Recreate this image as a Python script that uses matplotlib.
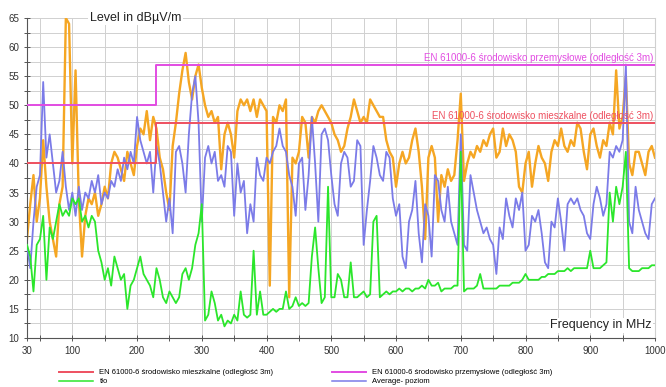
import numpy as np
import matplotlib
matplotlib.use("Agg")
import matplotlib.pyplot as plt
from matplotlib.ticker import MultipleLocator, FixedLocator

# frequency grid of the readings (MHz), 5 MHz apart
freq = np.arange(30, 1001, 5)

# peak trace (orange), dBuV/m
peak = [
    27, 33, 38, 30, 34, 44, 36, 30, 27, 24,
    33, 36, 65, 64, 40, 56, 34, 24, 31, 34,
    33, 35, 31, 33, 36, 34, 40, 42, 41, 39,
    37, 42, 40, 38, 43, 46, 45, 49, 44, 48,
    46, 41, 39, 35, 32, 43, 47, 52, 56, 59,
    54, 51, 55, 57, 53, 50, 48, 49, 47, 48,
    39, 45, 47, 45, 41, 49, 51, 50, 51, 49,
    51, 48, 51, 50, 49, 19, 48, 47, 50, 49,
    51, 17, 41, 40, 42, 48, 47, 41, 48, 47,
    49, 50, 49, 48, 47, 45, 44, 42, 43, 46,
    48, 51, 49, 47, 48, 47, 51, 50, 49, 48,
    48, 44, 42, 41, 36, 40, 42, 40, 41, 44,
    46, 42, 36, 27, 41, 43, 41, 30, 38, 36,
    39, 37, 38, 44, 52, 37, 40, 42, 41, 43,
    42, 44, 43, 45, 46, 41, 42, 46, 43, 45,
    44, 42, 36, 35, 40, 42, 36, 40, 43, 41,
    40, 37, 42, 44, 43, 46, 43, 42, 44, 43,
    47, 46, 42, 39, 45, 46, 43, 41, 44, 43,
    47, 45, 56, 46, 48, 55, 40, 38, 42, 42,
    40, 38, 42, 43, 41,
]

# average trace (blue)
average = [
    26, 22, 30, 36, 38, 54, 41, 45, 40, 35,
    37, 42, 36, 32, 35, 31, 36, 32, 35, 34,
    37, 35, 38, 33, 35, 34, 37, 36, 39, 37,
    41, 39, 42, 40, 48, 44, 42, 40, 42, 35,
    43, 40, 35, 30, 34, 28, 42, 43, 40, 35,
    45, 52, 55, 47, 30, 41, 43, 40, 42, 37,
    38, 36, 43, 42, 31, 40, 35, 37, 28, 33,
    30, 41, 38, 37, 41, 40, 42, 43, 46, 43,
    42, 38, 36, 31, 40, 41, 32, 38, 48, 40,
    30, 45, 46, 44, 38, 33, 31, 40, 42, 41,
    36, 37, 44, 43, 26, 32, 37, 43, 41, 38,
    37, 42, 41, 34, 31, 33, 24, 22, 30, 32,
    37, 28, 23, 33, 31, 24, 38, 37, 32, 30,
    36, 30, 28, 26, 45, 26, 25, 38, 35, 32,
    30, 28, 29, 27, 26, 21, 29, 27, 34, 31,
    29, 34, 32, 35, 25, 26, 31, 30, 32, 28,
    23, 22, 30, 29, 34, 30, 25, 33, 34, 33,
    34, 32, 31, 28, 27, 33, 36, 34, 31, 33,
    42, 41, 43, 42, 44, 57, 30, 28, 36, 32,
    30, 28, 27, 33, 34,
]

# background trace (green)
background = [
    26, 24, 18, 26, 27, 31, 20, 29, 27, 30,
    33, 31, 32, 31, 34, 33, 34, 30, 31, 29,
    31, 30, 25, 23, 20, 22, 19, 24, 22, 20,
    21, 15, 19, 20, 22, 24, 21, 20, 19, 17,
    22, 20, 17, 16, 18, 17, 16, 17, 21, 22,
    20, 22, 26, 28, 33, 13, 14, 18, 16, 13,
    14, 12, 13, 12.5, 14, 13, 18, 14, 13.5, 14,
    25, 14, 18, 14, 14, 14.5, 15, 14.5, 15, 15,
    18, 15, 15.5, 17, 15.5, 16, 15.5, 16, 24, 29,
    22, 16, 17, 36, 17, 17, 21, 20, 17, 17,
    23, 17, 17, 17.5, 18, 17, 17.5, 30, 31, 17,
    17.5, 18, 17.5, 18, 18, 18.5, 18, 18.5, 18.5, 18,
    18.5, 18.5, 19, 18.5, 20, 19, 19, 19.5, 18, 18.5,
    18.5, 18.5, 19, 19, 42, 18, 18.5, 18.5, 18.5, 19,
    21, 18.5, 18.5, 18.5, 18.5, 18.5, 19, 19, 19, 19,
    19.5, 19.5, 19.5, 20, 21, 20, 20, 20, 20, 20.5,
    20.5, 21, 21, 21, 21.5, 21.5, 21.5, 22, 21.5, 22,
    22, 22, 22, 22, 25, 22, 22, 22, 22.5, 23,
    35, 30, 36, 33, 36, 42, 22, 21.5, 21.5, 21.5,
    22, 22, 22, 22.5, 22.5,
]

# limit lines (EN 61000-6 at 3 m), step at 230 MHz
limit_freq = [30, 230, 230, 1000]
limit_residential = [40, 40, 47, 47]
limit_industrial = [50, 50, 57, 57]

label_res = "EN 61000-6 środowisko mieszkalne (odległość 3m)"
label_ind = "EN 61000-6 środowisko przemysłowe (odległość 3m)"
label_bg = "tło"
label_avg = "Average- poziom"

c_orange = "#F5A623"
c_blue = "#7B7BE8"
c_green = "#2BE62B"
c_red = "#EE5060"
c_mag = "#E24CE2"
font = ["Liberation Sans", "DejaVu Sans"]

fig = plt.figure(figsize=(6.66, 3.87), dpi=100)
ax = fig.add_axes([27 / 666, 1 - 338 / 387, 628 / 666, 320 / 387])

ax.plot(freq, peak, color=c_orange, lw=1.7, zorder=2)
ax.plot(freq, average, color=c_blue, lw=1.3, zorder=3)
ax.plot(freq, background, color=c_green, lw=1.3, zorder=4)
l_res, = ax.plot(limit_freq, limit_residential, color=c_red, lw=1.4, zorder=5)
l_ind, = ax.plot(limit_freq, limit_industrial, color=c_mag, lw=1.4, zorder=5)
h_bg, = ax.plot([], [], color=c_green, lw=1.1)
h_avg, = ax.plot([], [], color=c_blue, lw=1.1)

ax.set_xlim(30, 1000)
ax.set_ylim(10, 65)
ax.xaxis.set_major_locator(FixedLocator([30] + list(range(100, 1001, 100))))
ax.xaxis.set_minor_locator(FixedLocator(list(range(50, 1000, 100))))
ax.yaxis.set_major_locator(MultipleLocator(5))
ax.yaxis.set_minor_locator(MultipleLocator(2.5))
ax.grid(True, which="both", color="#d0d0d0", lw=0.7, zorder=0)
ax.set_axisbelow(True)
ax.tick_params(which="both", direction="inout", length=5, width=0.7,
               color="#555555", labelsize=7, labelcolor="#333333", pad=3)
for lab in ax.get_xticklabels() + ax.get_yticklabels():
    lab.set_family(font)
ax.spines["top"].set_visible(False)
ax.spines["right"].set_color("#d0d0d0")
ax.spines["left"].set_color("#555555")
ax.spines["bottom"].set_color("#555555")

ax.text(0.10, 1.0, "Level in dBµV/m", transform=ax.transAxes, fontsize=9,
        family=font, color="#222222", va="center", ha="left", zorder=10,
        bbox=dict(facecolor="white", edgecolor="none", pad=1))
ax.text(0.995, 0.04, "Frequency in MHz", transform=ax.transAxes, fontsize=9,
        family=font, color="#222222", va="center", ha="right", zorder=10,
        bbox=dict(facecolor="white", edgecolor="none", pad=1))
ax.text(998, 57.3, label_ind, fontsize=7, family=font, color=c_mag,
        ha="right", va="bottom", zorder=6)
ax.text(998, 47.3, label_res, fontsize=7, family=font, color=c_red,
        ha="right", va="bottom", zorder=6)

kw = dict(frameon=False, handlelength=4.5, labelspacing=0.25,
          loc="upper left", prop={"family": font, "size": 5.5})
fig.legend([l_res, h_bg], [label_res, label_bg],
           bbox_to_anchor=(52 / 666, 1 - 362 / 387), **kw)
fig.legend([l_ind, h_avg], [label_ind, label_avg],
           bbox_to_anchor=(325 / 666, 1 - 362 / 387), **kw)

fig.savefig("out.png", dpi=100)
